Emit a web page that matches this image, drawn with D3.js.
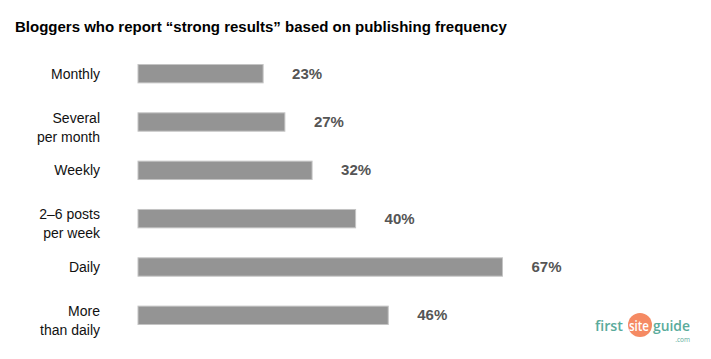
<html>
    <head>
        <script src="https://cdnjs.cloudflare.com/ajax/libs/d3/7.8.5/d3.min.js"></script>
        <style>
            body { margin: 0; background: #fff; }
            svg { font-family: "Liberation Sans", Arial, sans-serif; }
        </style>
    </head>
    <body>
        <svg width="711" height="359"></svg>
        <script>
            // data
            let categories = [["Monthly"], ["Several", "per month"], ["Weekly"],
                              ["2\u20136 posts", "per week"], ["Daily"], ["More", "than daily"]];
            let values = [23, 27, 32, 40, 67, 46];
            let title = "Bloggers who report \u201cstrong results\u201d based on publishing frequency";

            var svg = d3.select("svg");

            var x = d3.scaleLinear().domain([0, 100]).range([138, 682]);
            var y = d3.scaleBand()
                .domain(d3.range(categories.length))
                .range([50, 339])
                .paddingInner(0.62)
                .paddingOuter(0.3);

            svg.append("text")
                .attr("x", 15)
                .attr("y", 32)
                .style("font-size", "15px")
                .style("font-weight", "bold")
                .style("fill", "#000")
                .text(title);

            var rows = svg.selectAll("g.row")
                .data(values)
                .enter()
                .append("g")
                .attr("class", "row");

            rows.append("rect")
                .attr("x", x(0))
                .attr("y", (d, i) => y(i))
                .attr("width", d => x(d) - x(0))
                .attr("height", y.bandwidth())
                .style("fill", "#949494")
                .style("stroke", "#c4c4c4")
                .style("stroke-width", 1);

            rows.append("text")
                .attr("x", d => x(d) + 29)
                .attr("y", (d, i) => y(i) + y.bandwidth() / 2 + 5)
                .style("font-size", "15px")
                .style("font-weight", "bold")
                .style("fill", "#555")
                .text(d => d + "%");

            // category labels, one or two lines
            svg.selectAll("text.cat")
                .data(categories)
                .enter()
                .append("text")
                .attr("class", "cat")
                .attr("text-anchor", "end")
                .style("font-size", "14px")
                .style("fill", "#111")
                .each(function(lines, i) {
                    var mid = y(i) + y.bandwidth() / 2;
                    var first = lines.length == 1 ? mid + 5 : mid + 0.5;
                    d3.select(this).selectAll("tspan")
                        .data(lines)
                        .enter()
                        .append("tspan")
                        .attr("x", 100)
                        .attr("y", (t, j) => first + j * 19)
                        .text(t => t);
                });

            // logo
            var logo = svg.append("g").attr("class", "logo")
                .style("font-family", "'Open Sans', sans-serif")
                .style("font-size", "15px")
                .style("font-weight", "600");
            logo.append("circle")
                .attr("cx", 640).attr("cy", 325).attr("r", 12)
                .style("fill", "#f58a63");
            logo.append("text")
                .attr("x", 595).attr("y", 331)
                .attr("textLength", 28).attr("lengthAdjust", "spacingAndGlyphs")
                .style("fill", "#5aab9b")
                .text("first");
            logo.append("text")
                .attr("x", 629).attr("y", 331)
                .attr("textLength", 20).attr("lengthAdjust", "spacingAndGlyphs")
                .style("fill", "#fff")
                .text("site");
            logo.append("text")
                .attr("x", 653).attr("y", 331)
                .attr("textLength", 37).attr("lengthAdjust", "spacingAndGlyphs")
                .style("fill", "#5aab9b")
                .text("guide");
            logo.append("text")
                .attr("x", 690).attr("y", 342)
                .attr("text-anchor", "end")
                .style("font-size", "6.5px")
                .style("font-weight", "normal")
                .style("fill", "#5aab9b")
                .text(".com");
        </script>
    </body>
</html>
